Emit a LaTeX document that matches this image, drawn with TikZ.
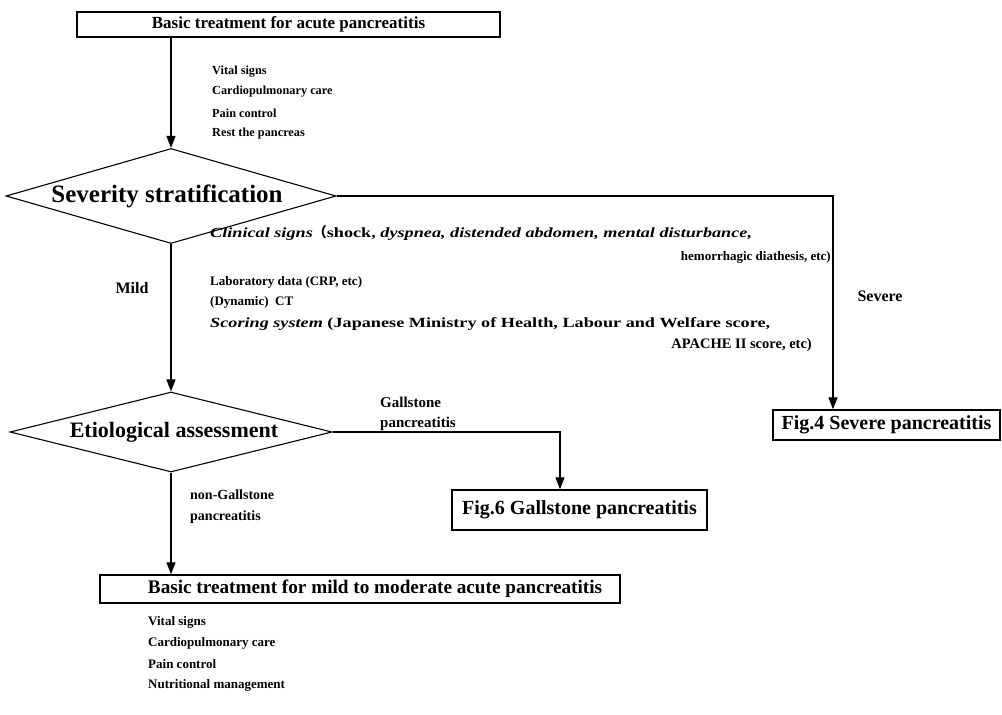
\documentclass[tikz,border=0pt]{standalone}
\usepackage{fontspec}
\setmainfont{Liberation Serif}
\newfontfamily\cjkfont{Noto Sans CJK JP}
\newfontfamily\widefont[FakeStretch=1.3]{Liberation Serif}
\usetikzlibrary{shapes.geometric,arrows.meta}
\begin{document}
\begin{tikzpicture}[x=1pt,y=-1pt,
 box/.style={draw,line width=1.4pt,inner sep=0pt},
 dia/.style={draw,diamond,line width=1.1pt,inner sep=0pt,font=\bfseries\fontsize{22}{24}\selectfont},
 lst/.style={anchor=west,inner sep=0pt,font=\bfseries\fontsize{13}{15}\selectfont},
 tlst/.style={anchor=west,inner sep=0pt,font=\bfseries\fontsize{12.3}{15}\selectfont},
 wlst/.style={anchor=west,inner sep=0pt,font=\widefont\bfseries\fontsize{14}{16}\selectfont},
 lbl/.style={inner sep=0pt,align=left,font=\bfseries\fontsize{15}{20}\selectfont},
 arr/.style={line width=1.3pt,-{Triangle[length=12pt,width=9pt]}},
 ln/.style={line width=1.3pt}]
\useasboundingbox (0,0) rectangle (1002,715);
% boxes
\node[box,minimum width=423pt,minimum height=25pt,font=\bfseries\fontsize{17}{19}\selectfont] (top) at (288.5,24.5) {Basic treatment for acute pancreatitis};
\node[box,minimum width=227pt,minimum height=30pt,font=\bfseries\fontsize{20}{22}\selectfont] (fig4) at (886.5,425) {Fig.4 Severe pancreatitis};
\node[box,minimum width=255pt,minimum height=40pt,font=\bfseries\fontsize{20}{22}\selectfont] (fig6) at (579.5,510) {Fig.6 Gallstone pancreatitis};
\node[box,minimum width=520pt,minimum height=28pt,font=\bfseries\fontsize{19.2}{21}\selectfont] (bot) at (360,589) {\hspace*{30pt}Basic treatment for mild to moderate acute pancreatitis};
% diamonds
\node[dia,minimum width=330pt,minimum height=95pt,aspect=3.47,font=\bfseries\fontsize{25}{27}\selectfont] (d1) at (171,196) {Severity stratification\hspace*{8pt}};
\node[dia,minimum width=322pt,minimum height=80pt,aspect=4.02] (d2) at (171,432) {\hspace*{6pt}Etiological assessment};
% helper coordinates
\coordinate (c4) at (833,0);
\coordinate (c6) at (560,0);
% connectors
\draw[arr] (top.south -| d1.north) -- (d1.north);
\draw[arr] (d1.east) -| (c4 |- fig4.north);
\draw[arr] (d1.south) -- (d2.north);
\draw[arr] (d2.east) -| (c6 |- fig6.north);
\draw[arr] (d2.south) -- (d2.south |- bot.north);
% top list
\node[tlst] (t1) at (212,72) {Vital signs};
\node[tlst] (t2) at (212,92) {Cardiopulmonary care};
\node[tlst] (t3) at (212,113) {Pain control};
\node[tlst] (t4) at (212,134) {Rest the pancreas};
% severity criteria
\node[wlst] (s1) at (210,233) {\itshape Clinical signs{\upshape\cjkfont （}\upshape shock, \itshape dyspnea, distended abdomen, mental disturbance,};
\node[lst,anchor=east] (s2) at (831,257) {hemorrhagic diathesis, etc)};
\node[lst] (s3) at (210,282) {Laboratory data (CRP, etc)};
\node[lst] (s4) at (210,302) {(Dynamic)\ \ CT};
\node[wlst] (s5) at (210,324) {\itshape Scoring system \upshape(Japanese Ministry of Health, Labour and Welfare score,};
\node[lst,anchor=east,font=\bfseries\fontsize{14.5}{16}\selectfont] (s6) at (812,345) {APACHE II score, etc)};
% branch labels
\node[lbl,font=\bfseries\fontsize{16}{18}\selectfont] (mild) at (132,288) {Mild};
\node[lbl,font=\bfseries\fontsize{16}{18}\selectfont] (severe) at (880,296) {Severe};
\node[lbl,anchor=west] (gall) at (380,414) {Gallstone\\pancreatitis};
\node[lbl,anchor=west,font=\bfseries\fontsize{14}{21}\selectfont] (nongall) at (190,507) {non-Gallstone\\pancreatitis};
% bottom list
\node[lst] (b1) at (148,622) {Vital signs};
\node[lst] (b2) at (148,643) {Cardiopulmonary care};
\node[lst] (b3) at (148,664) {Pain control};
\node[lst] (b4) at (148,685) {Nutritional management};
\end{tikzpicture}
\end{document}
